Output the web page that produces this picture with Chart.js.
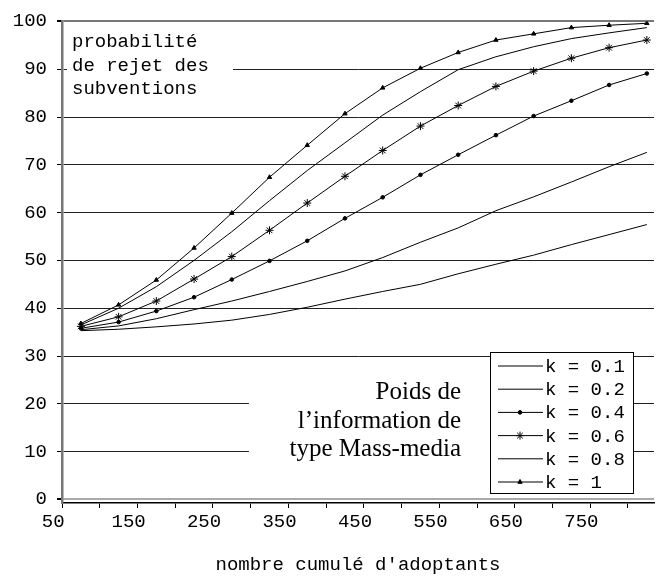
<!DOCTYPE html>
<html>
<head>
<meta charset="utf-8">
<script src="https://cdn.jsdelivr.net/npm/chart.js@4/dist/chart.umd.min.js"></script>
<style>
  body { margin: 0; background: #fff; }
  #wrap { width: 659px; height: 576px; position: relative; }
</style>
</head>
<body>
<div id="wrap"><canvas id="myChart"></canvas></div>
<script>
// nombre cumulé d'adoptants (x of each point)
var adopters = [100, 150, 200, 250, 300, 350, 400, 450, 500, 550, 600, 650, 700, 750, 800, 850];

// probabilité de rejet des subventions, one array per weight k
var k01 = [35.3, 35.6, 36.1, 36.7, 37.5, 38.7, 40.2, 41.9, 43.5, 45.0, 47.2, 49.2, 51.1, 53.3, 55.4, 57.5];
var k02 = [35.5, 36.3, 37.8, 39.7, 41.5, 43.5, 45.6, 47.8, 50.6, 53.8, 56.8, 60.4, 63.3, 66.4, 69.6, 72.6];
var k04 = [35.8, 37.1, 39.4, 42.3, 46.0, 49.9, 54.1, 58.8, 63.2, 67.9, 72.1, 76.2, 80.2, 83.4, 86.7, 89.1];
var k06 = [36.2, 38.2, 41.5, 46.1, 50.8, 56.3, 62.0, 67.6, 73.0, 78.1, 82.4, 86.4, 89.6, 92.3, 94.5, 96.1];
var k08 = [36.5, 40.0, 44.5, 50.0, 56.0, 62.5, 68.8, 74.6, 80.4, 85.3, 89.9, 92.6, 94.7, 96.4, 97.6, 98.7];
var k1  = [36.8, 40.7, 45.9, 52.6, 59.9, 67.4, 74.1, 80.7, 86.1, 90.2, 93.5, 96.1, 97.4, 98.7, 99.2, 99.6];

var seriesLabels = ['k = 0.1', 'k = 0.2', 'k = 0.4', 'k = 0.6', 'k = 0.8', 'k = 1'];

// axis ticks
var xTickLabels = [50, 150, 250, 350, 450, 550, 650, 750];
var xTickMarks = [75, 125, 175, 225, 275, 325, 375, 425, 475, 525, 575, 625, 675, 725, 775, 825];
var yTicks = [0, 10, 20, 30, 40, 50, 60, 70, 80, 90, 100];

var mono = "'Liberation Mono', 'Courier New', monospace";

function pts(arr) {
  return adopters.map(function (x, i) { return { x: x, y: arr[i] }; });
}

function serie(label, arr, style, radius) {
  return {
    label: label,
    data: pts(arr),
    borderColor: '#000',
    backgroundColor: '#000',
    borderWidth: 1,
    pointStyle: style,
    pointRadius: radius,
    pointBorderWidth: 1,
    pointHoverRadius: radius,
    tension: 0
  };
}

// texts drawn inside the plot + the boxed legend
var overlay = {
  id: 'overlay',
  beforeDatasetsDraw: function (chart) {
    var ctx = chart.ctx;
    ctx.save();
    ctx.fillStyle = '#fff';
    ctx.fillRect(67, 28, 166, 74);
    ctx.fillRect(249, 372, 241, 94);

    ctx.fillStyle = '#000';
    ctx.font = '19px ' + mono;
    ctx.textAlign = 'left';
    ctx.textBaseline = 'middle';
    ctx.fillText('probabilité', 72, 42);
    ctx.fillText('de rejet des', 72, 66);
    ctx.fillText('subventions', 72, 89);

    ctx.font = "25px 'Liberation Serif', 'Times New Roman', serif";
    ctx.textAlign = 'right';
    ctx.fillText('Poids de', 461, 392);
    ctx.fillText('l\u2019information de', 461, 421);
    ctx.fillText('type Mass-media', 461, 449);
    ctx.restore();
  },
  afterDatasetsDraw: function (chart) {
    var ctx = chart.ctx;
    var bx = 490, by = 352, bw = 143, bh = 141;
    ctx.save();
    ctx.fillStyle = '#fff';
    ctx.fillRect(bx, by, bw, bh);
    ctx.strokeStyle = '#000';
    ctx.lineWidth = 1;
    ctx.strokeRect(bx + 0.5, by + 0.5, bw, bh);

    ctx.font = '19px ' + mono;
    ctx.textAlign = 'left';
    ctx.textBaseline = 'middle';
    chart.data.datasets.forEach(function (ds, i) {
      var y = by + 14 + i * 23.2;
      ctx.strokeStyle = '#000';
      ctx.lineWidth = 1;
      ctx.beginPath();
      ctx.moveTo(498, y);
      ctx.lineTo(543, y);
      ctx.stroke();
      if (ds.pointRadius > 0) {
        ctx.fillStyle = '#000';
        Chart.helpers.drawPoint(ctx, { pointStyle: ds.pointStyle, radius: ds.pointRadius, rotation: 0, borderWidth: 1 }, 520, y);
        ctx.fill();
      }
      ctx.fillStyle = '#000';
      ctx.fillText(ds.label, 545, y + 1);
    });
    ctx.restore();
  }
};

var chart = new Chart(document.getElementById('myChart'), {
  type: 'line',
  data: {
    datasets: [
      serie(seriesLabels[0], k01, 'circle', 0),
      serie(seriesLabels[1], k02, 'circle', 0),
      serie(seriesLabels[2], k04, 'circle', 1.8),
      serie(seriesLabels[3], k06, 'star', 4),
      serie(seriesLabels[4], k08, 'circle', 0),
      serie(seriesLabels[5], k1, 'triangle', 2.5)
    ]
  },
  options: {
    responsive: true,
    maintainAspectRatio: false,
    animation: false,
    layout: { padding: { top: 17, right: 0, bottom: 0, left: 0 } },
    plugins: {
      legend: { display: false },
      tooltip: { enabled: false }
    },
    scales: {
      x: {
        type: 'linear',
        min: 75,
        max: 859.5,
        afterBuildTicks: function (s) {
          s.ticks = xTickLabels.concat(xTickMarks).sort(function (a, b) { return a - b; })
            .map(function (v) { return { value: v }; });
        },
        afterFit: function (s) { s.height = 73; },
        ticks: {
          autoSkip: false,
          maxRotation: 0,
          labelOffset: 10,
          padding: 3,
          color: '#000',
          font: { family: mono, size: 19 },
          callback: function (v) { return xTickLabels.indexOf(v) >= 0 ? String(v) : ''; }
        },
        grid: {
          drawOnChartArea: false,
          drawTicks: true,
          tickLength: 5,
          tickColor: function (c) {
            return (c.tick && xTickMarks.indexOf(c.tick.value) >= 0) ? '#000' : 'rgba(0,0,0,0)';
          }
        },
        border: { display: true, color: '#000', width: 1.5 },
        title: {
          display: true,
          text: "nombre cumulé d'adoptants",
          color: '#000',
          font: { family: mono, size: 19 },
          padding: 0
        }
      },
      y: {
        min: -0.75,
        max: 100,
        afterBuildTicks: function (s) {
          s.ticks = yTicks.map(function (v) { return { value: v }; });
        },
        afterFit: function (s) { s.width = 62; },
        ticks: {
          padding: 10,
          color: '#000',
          font: { family: mono, size: 19 }
        },
        grid: {
          drawTicks: true,
          tickLength: 5,
          tickColor: '#000',
          color: function (c) {
            if (!c.tick) return '#222';
            if (c.tick.value === 0) return '#aaa';
            if (c.tick.value === 100) return '#777';
            return '#222';
          },
          lineWidth: function (c) {
            if (c.tick && (c.tick.value === 0 || c.tick.value === 100)) return 2;
            return 1;
          }
        },
        border: { display: true, color: '#777', width: 2.5 }
      }
    }
  },
  plugins: [overlay]
});
</script>
</body>
</html>
